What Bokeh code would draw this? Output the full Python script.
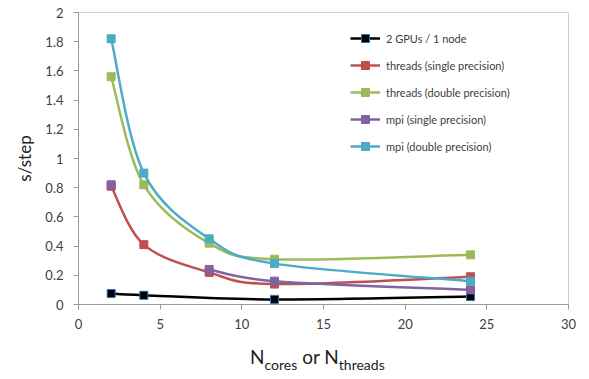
from bokeh.plotting import figure
from bokeh.models import Range1d, Legend, LegendItem, ColumnDataSource, FixedTicker, Div
from bokeh.layouts import column
from bokeh.embed import file_html
from bokeh.resources import INLINE

# ---- data ----
gpu_x = [2, 4, 12, 24]
gpu_y = [0.075, 0.063, 0.035, 0.055]
thr_s_x = [2, 4, 8, 12, 24]
thr_s_y = [0.81, 0.41, 0.22, 0.14, 0.19]
thr_d_x = [2, 4, 8, 12, 24]
thr_d_y = [1.56, 0.82, 0.42, 0.31, 0.34]
# mpi single: isolated point at 2 (gap at 4), then connected 8..24
mpi_s_x0 = [2]
mpi_s_y0 = [0.82]
mpi_s_x = [8, 12, 24]
mpi_s_y = [0.24, 0.16, 0.10]
mpi_d_x = [2, 4, 8, 12, 24]
mpi_d_y = [1.82, 0.90, 0.45, 0.28, 0.16]

series = [
    ("2 GPUs / 1 node", [gpu_x], [gpu_y], "#000000", "#2f6fb7"),
    ("threads (single precision)", [thr_s_x], [thr_s_y], "#C0504D", "#C0504D"),
    ("threads (double precision)", [thr_d_x], [thr_d_y], "#9BBB59", "#9BBB59"),
    ("mpi (single precision)", [mpi_s_x0, mpi_s_x], [mpi_s_y0, mpi_s_y], "#8064A2", "#8064A2"),
    ("mpi (double precision)", [mpi_d_x], [mpi_d_y], "#4BACC6", "#4BACC6"),
]

x_ticks = [0, 5, 10, 15, 20, 25, 30]
y_ticks = [0, 0.2, 0.4, 0.6, 0.8, 1, 1.2, 1.4, 1.6, 1.8, 2]
x_title_main = "N"
x_title_sub1 = "cores"
x_title_mid = "or"
x_title_sub2 = "threads"

FONT = "Lato"
TXT = "#404040"
AX = "#9a9a9a"

p = figure(width=589, height=340, output_backend="svg", toolbar_location=None,
           x_range=Range1d(0, 30), y_range=Range1d(0, 2),
           min_border_left=78, min_border_right=21, min_border_top=12, min_border_bottom=36)
p.xgrid.visible = False
p.ygrid.visible = False
p.outline_line_color = "#cfcfcf"
p.background_fill_color = "white"
p.border_fill_color = "white"

for ax in (p.xaxis, p.yaxis):
    ax.axis_line_color = AX
    ax.major_tick_line_color = AX
    ax.minor_tick_line_color = None
    ax.major_tick_in = 0
    ax.major_tick_out = 5
    ax.major_label_text_font = FONT
    ax.major_label_text_font_size = "13px"
    ax.major_label_text_color = TXT
p.xaxis.ticker = FixedTicker(ticks=x_ticks)
p.yaxis.ticker = FixedTicker(ticks=y_ticks)
p.yaxis.major_label_overrides = {t: ("%g" % t) for t in y_ticks}
p.xaxis.major_label_standoff = 9
p.yaxis.major_label_standoff = 10

p.yaxis.axis_label = "s/step"
p.yaxis.axis_label_text_font = FONT
p.yaxis.axis_label_text_font_size = "17px"
p.yaxis.axis_label_text_font_style = "normal"
p.yaxis.axis_label_text_color = "#222222"
p.yaxis.axis_label_standoff = 7


def smooth(xs, ys):
    n = len(xs)
    x0, y0, x1, y1, cx0, cy0, cx1, cy1 = [], [], [], [], [], [], [], []
    for i in range(n - 1):
        xm = xs[i - 1] if i > 0 else xs[i]
        ym = ys[i - 1] if i > 0 else ys[i]
        xp = xs[i + 2] if i + 2 < n else xs[i + 1]
        yp = ys[i + 2] if i + 2 < n else ys[i + 1]
        x0.append(xs[i]); y0.append(ys[i]); x1.append(xs[i + 1]); y1.append(ys[i + 1])
        cx0.append(xs[i] + (xs[i + 1] - xm) / 6.0)
        cy0.append(ys[i] + (ys[i + 1] - ym) / 6.0)
        cx1.append(xs[i + 1] - (xp - xs[i]) / 6.0)
        cy1.append(ys[i + 1] - (yp - ys[i]) / 6.0)
    return dict(x0=x0, y0=y0, x1=x1, y1=y1, cx0=cx0, cy0=cy0, cx1=cx1, cy1=cy1)


items = []
for name, xparts, yparts, col, edge in series:
    rs = []
    for xs, ys in zip(xparts, yparts):
        if len(xs) > 1:
            src = ColumnDataSource(smooth(xs, ys))
            p.bezier(x0="x0", y0="y0", x1="x1", y1="y1", cx0="cx0", cy0="cy0", cx1="cx1", cy1="cy1",
                     source=src, line_color=col, line_width=2.5)
    for xs, ys in zip(xparts, yparts):
        sc = p.scatter(xs, ys, marker="square", size=8, fill_color=col, line_color=edge, line_width=1)
        rs.append(sc)
    ln = p.line([float("nan")], [float("nan")], line_color=col, line_width=2.5)
    items.append(LegendItem(label=name, renderers=[ln, rs[0]]))

legend = Legend(items=items, location="top_right", border_line_color=None,
                background_fill_alpha=0, label_text_font=FONT, label_text_font_size="11px",
                label_text_color=TXT, glyph_width=30, glyph_height=20, spacing=7,
                label_standoff=6, padding=4, margin=0)
legend.location = (272, 148)
p.add_layout(legend)

# x axis title with subscripts, as HTML text below the plot
sub = "font-size:14px;vertical-align:-6px;"
html = (
    '<div style="position:absolute;left:250px;top:6px;white-space:nowrap;'
    'font-family:Lato;font-size:19px;line-height:22px;color:#222222;">'
    f'{x_title_main}<span style="{sub}">{x_title_sub1}</span> {x_title_mid} '
    f'{x_title_main}<span style="{sub}">{x_title_sub2}</span></div>'
)
div = Div(text=html, width=589, height=39, margin=0,
          styles={"position": "relative", "background-color": "white"})

layout = column(p, div, spacing=0)
open("out.html", "w").write(file_html(layout, INLINE))
